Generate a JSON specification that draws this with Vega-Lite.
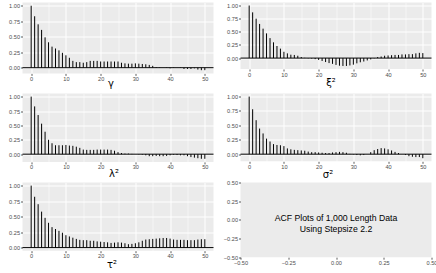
{
  "$schema": "https://vega.github.io/schema/vega-lite/v6.json",
  "background": "white",
  "padding": {"left": 8.5, "top": 2.5, "right": 0, "bottom": 0},
  "columns": 2,
  "spacing": {"row": 20, "column": 27},
  "bounds": "flush",
  "concat": [
    {
      "width": 191, "height": 70.9,
      "resolve": {"axis": {"y": "independent"}},
      "layer": [
        {
          "data": {"values": [
            {"lag":0,"acf":1.00},{"lag":1,"acf":0.83},{"lag":2,"acf":0.70},{"lag":3,"acf":0.61},{"lag":4,"acf":0.49},{"lag":5,"acf":0.41},{"lag":6,"acf":0.34},{"lag":7,"acf":0.31},{"lag":8,"acf":0.28},{"lag":9,"acf":0.24},{"lag":10,"acf":0.20},
            {"lag":11,"acf":0.16},{"lag":12,"acf":0.11},{"lag":13,"acf":0.09},{"lag":14,"acf":0.09},{"lag":15,"acf":0.08},{"lag":16,"acf":0.09},{"lag":17,"acf":0.11},{"lag":18,"acf":0.11},{"lag":19,"acf":0.11},{"lag":20,"acf":0.10},
            {"lag":21,"acf":0.10},{"lag":22,"acf":0.10},{"lag":23,"acf":0.10},{"lag":24,"acf":0.10},{"lag":25,"acf":0.10},{"lag":26,"acf":0.08},{"lag":27,"acf":0.07},{"lag":28,"acf":0.065},{"lag":29,"acf":0.065},{"lag":30,"acf":0.07},
            {"lag":31,"acf":0.065},{"lag":32,"acf":0.06},{"lag":33,"acf":0.055},{"lag":34,"acf":0.045},{"lag":35,"acf":0.03},{"lag":36,"acf":0.01},{"lag":37,"acf":0.005},{"lag":38,"acf":0.0},{"lag":39,"acf":-0.005},{"lag":40,"acf":-0.01},
            {"lag":41,"acf":-0.005},{"lag":42,"acf":0.0},{"lag":43,"acf":-0.005},{"lag":44,"acf":-0.02},{"lag":45,"acf":-0.02},{"lag":46,"acf":-0.02},{"lag":47,"acf":-0.01},{"lag":48,"acf":-0.03},{"lag":49,"acf":-0.04},{"lag":50,"acf":-0.04}
          ]},
          "mark": {"type": "rule", "color": "#000000", "strokeWidth": 1},
          "encoding": {
            "x": {"field": "lag", "type": "quantitative",
              "scale": {"domain": [-2.5, 52.5], "nice": false, "zero": false},
              "axis": {"title": "γ", "titleX": 88, "titleY": 13, "labelOverlap": false,
                "values": [0,5,10,15,20,25,30,35,40,45,50],
                "labelExpr": "datum.value % 10 === 0 ? datum.label : ''",
                "tickOpacity": {"condition": {"test": "datum.value % 10 !== 0", "value": 0}, "value": 1},
                "gridWidth": {"condition": {"test": "datum.value % 10 !== 0", "value": 0.5}, "value": 1}}},
            "y": {"field": "acf", "type": "quantitative",
              "scale": {"domain": [-0.092, 1.052], "nice": false, "zero": false},
              "axis": {"title": null, "format": ".2f", "labelOverlap": false, "orient": "left",
                "values": [0,0.25,0.5,0.75,1], "gridWidth": 1}},
            "y2": {"datum": 0}
          }
        },
        {
          "data": {"values": [{"acf": 0}]},
          "mark": {"type": "rule", "color": "#000000", "strokeWidth": 1},
          "encoding": {"y": {"field": "acf", "type": "quantitative",
            "axis": {"orient": "right", "title": null, "labels": false, "ticks": false, "domain": false,
              "values": [0.125,0.375,0.625,0.875], "gridWidth": 0.5}}}
        }
      ]
    },
    {
      "width": 191, "height": 66.5,
      "resolve": {"axis": {"y": "independent"}},
      "layer": [
        {
          "data": {"values": [
            {"lag":0,"acf":1.00},{"lag":1,"acf":0.87},{"lag":2,"acf":0.75},{"lag":3,"acf":0.65},{"lag":4,"acf":0.56},{"lag":5,"acf":0.47},{"lag":6,"acf":0.38},{"lag":7,"acf":0.30},{"lag":8,"acf":0.23},{"lag":9,"acf":0.18},{"lag":10,"acf":0.12},
            {"lag":11,"acf":0.09},{"lag":12,"acf":0.065},{"lag":13,"acf":0.06},{"lag":14,"acf":0.045},{"lag":15,"acf":0.02},{"lag":16,"acf":0.005},{"lag":17,"acf":-0.005},{"lag":18,"acf":-0.01},{"lag":19,"acf":-0.02},{"lag":20,"acf":-0.035},
            {"lag":21,"acf":-0.055},{"lag":22,"acf":-0.075},{"lag":23,"acf":-0.095},{"lag":24,"acf":-0.11},{"lag":25,"acf":-0.13},{"lag":26,"acf":-0.145},{"lag":27,"acf":-0.15},{"lag":28,"acf":-0.15},{"lag":29,"acf":-0.14},{"lag":30,"acf":-0.125},
            {"lag":31,"acf":-0.10},{"lag":32,"acf":-0.08},{"lag":33,"acf":-0.065},{"lag":34,"acf":-0.045},{"lag":35,"acf":-0.025},{"lag":36,"acf":-0.005},{"lag":37,"acf":0.02},{"lag":38,"acf":0.03},{"lag":39,"acf":0.045},{"lag":40,"acf":0.05},
            {"lag":41,"acf":0.055},{"lag":42,"acf":0.06},{"lag":43,"acf":0.06},{"lag":44,"acf":0.07},{"lag":45,"acf":0.07},{"lag":46,"acf":0.075},{"lag":47,"acf":0.075},{"lag":48,"acf":0.09},{"lag":49,"acf":0.10},{"lag":50,"acf":0.095}
          ]},
          "mark": {"type": "rule", "color": "#000000", "strokeWidth": 1},
          "encoding": {
            "x": {"field": "lag", "type": "quantitative",
              "scale": {"domain": [-2.5, 52.5], "nice": false, "zero": false},
              "axis": {"title": "ξ²", "titleX": 90, "titleY": 16, "labelOverlap": false,
                "values": [0,5,10,15,20,25,30,35,40,45,50],
                "labelExpr": "datum.value % 10 === 0 ? datum.label : ''",
                "tickOpacity": {"condition": {"test": "datum.value % 10 !== 0", "value": 0}, "value": 1},
                "gridWidth": {"condition": {"test": "datum.value % 10 !== 0", "value": 0.5}, "value": 1}}},
            "y": {"field": "acf", "type": "quantitative",
              "scale": {"domain": [-0.2075, 1.0575], "nice": false, "zero": false},
              "axis": {"title": null, "format": ".2f", "labelOverlap": false, "orient": "left",
                "values": [0,0.25,0.5,0.75,1], "gridWidth": 1}},
            "y2": {"datum": 0}
          }
        },
        {
          "data": {"values": [{"acf": 0}]},
          "mark": {"type": "rule", "color": "#000000", "strokeWidth": 1},
          "encoding": {"y": {"field": "acf", "type": "quantitative",
            "axis": {"orient": "right", "title": null, "labels": false, "ticks": false, "domain": false,
              "values": [-0.125,0.125,0.375,0.625,0.875], "gridWidth": 0.5}}}
        }
      ]
    },
    {
      "width": 191, "height": 68.4,
      "resolve": {"axis": {"y": "independent"}},
      "layer": [
        {
          "data": {"values": [
            {"lag":0,"acf":1.00},{"lag":1,"acf":0.83},{"lag":2,"acf":0.68},{"lag":3,"acf":0.53},{"lag":4,"acf":0.39},{"lag":5,"acf":0.25},{"lag":6,"acf":0.19},{"lag":7,"acf":0.155},{"lag":8,"acf":0.155},{"lag":9,"acf":0.155},{"lag":10,"acf":0.16},
            {"lag":11,"acf":0.15},{"lag":12,"acf":0.145},{"lag":13,"acf":0.13},{"lag":14,"acf":0.11},{"lag":15,"acf":0.08},{"lag":16,"acf":0.075},{"lag":17,"acf":0.075},{"lag":18,"acf":0.075},{"lag":19,"acf":0.08},{"lag":20,"acf":0.08},
            {"lag":21,"acf":0.08},{"lag":22,"acf":0.08},{"lag":23,"acf":0.075},{"lag":24,"acf":0.06},{"lag":25,"acf":0.035},{"lag":26,"acf":0.02},{"lag":27,"acf":0.01},{"lag":28,"acf":0.01},{"lag":29,"acf":0.005},{"lag":30,"acf":0.0},
            {"lag":31,"acf":-0.005},{"lag":32,"acf":-0.01},{"lag":33,"acf":-0.02},{"lag":34,"acf":-0.035},{"lag":35,"acf":-0.035},{"lag":36,"acf":-0.03},{"lag":37,"acf":-0.035},{"lag":38,"acf":-0.035},{"lag":39,"acf":-0.03},{"lag":40,"acf":-0.02},
            {"lag":41,"acf":-0.01},{"lag":42,"acf":-0.015},{"lag":43,"acf":-0.02},{"lag":44,"acf":-0.02},{"lag":45,"acf":-0.035},{"lag":46,"acf":-0.05},{"lag":47,"acf":-0.06},{"lag":48,"acf":-0.07},{"lag":49,"acf":-0.08},{"lag":50,"acf":-0.08}
          ]},
          "mark": {"type": "rule", "color": "#000000", "strokeWidth": 1},
          "encoding": {
            "x": {"field": "lag", "type": "quantitative",
              "scale": {"domain": [-2.5, 52.5], "nice": false, "zero": false},
              "axis": {"title": "λ²", "titleX": 91, "titleY": 15, "labelOverlap": false,
                "values": [0,5,10,15,20,25,30,35,40,45,50],
                "labelExpr": "datum.value % 10 === 0 ? datum.label : ''",
                "tickOpacity": {"condition": {"test": "datum.value % 10 !== 0", "value": 0}, "value": 1},
                "gridWidth": {"condition": {"test": "datum.value % 10 !== 0", "value": 0.5}, "value": 1}}},
            "y": {"field": "acf", "type": "quantitative",
              "scale": {"domain": [-0.134, 1.054], "nice": false, "zero": false},
              "axis": {"title": null, "format": ".2f", "labelOverlap": false, "orient": "left",
                "values": [0,0.25,0.5,0.75,1], "gridWidth": 1}},
            "y2": {"datum": 0}
          }
        },
        {
          "data": {"values": [{"acf": 0}]},
          "mark": {"type": "rule", "color": "#000000", "strokeWidth": 1},
          "encoding": {"y": {"field": "acf", "type": "quantitative",
            "axis": {"orient": "right", "title": null, "labels": false, "ticks": false, "domain": false,
              "values": [-0.125,0.125,0.375,0.625,0.875], "gridWidth": 0.5}}}
        }
      ]
    },
    {
      "width": 191, "height": 67.8,
      "resolve": {"axis": {"y": "independent"}},
      "layer": [
        {
          "data": {"values": [
            {"lag":0,"acf":1.00},{"lag":1,"acf":0.78},{"lag":2,"acf":0.59},{"lag":3,"acf":0.445},{"lag":4,"acf":0.36},{"lag":5,"acf":0.27},{"lag":6,"acf":0.22},{"lag":7,"acf":0.175},{"lag":8,"acf":0.16},{"lag":9,"acf":0.155},{"lag":10,"acf":0.14},
            {"lag":11,"acf":0.10},{"lag":12,"acf":0.085},{"lag":13,"acf":0.075},{"lag":14,"acf":0.07},{"lag":15,"acf":0.065},{"lag":16,"acf":0.06},{"lag":17,"acf":0.045},{"lag":18,"acf":0.035},{"lag":19,"acf":0.035},{"lag":20,"acf":0.03},
            {"lag":21,"acf":0.025},{"lag":22,"acf":0.02},{"lag":23,"acf":0.02},{"lag":24,"acf":0.03},{"lag":25,"acf":0.035},{"lag":26,"acf":0.04},{"lag":27,"acf":0.035},{"lag":28,"acf":0.025},{"lag":29,"acf":0.005},{"lag":30,"acf":-0.005},
            {"lag":31,"acf":-0.015},{"lag":32,"acf":-0.02},{"lag":33,"acf":-0.015},{"lag":34,"acf":0.0},{"lag":35,"acf":0.035},{"lag":36,"acf":0.07},{"lag":37,"acf":0.09},{"lag":38,"acf":0.105},{"lag":39,"acf":0.10},{"lag":40,"acf":0.085},
            {"lag":41,"acf":0.065},{"lag":42,"acf":0.04},{"lag":43,"acf":0.02},{"lag":44,"acf":0.0},{"lag":45,"acf":-0.015},{"lag":46,"acf":-0.035},{"lag":47,"acf":-0.045},{"lag":48,"acf":-0.05},{"lag":49,"acf":-0.05},{"lag":50,"acf":-0.07}
          ]},
          "mark": {"type": "rule", "color": "#000000", "strokeWidth": 1},
          "encoding": {
            "x": {"field": "lag", "type": "quantitative",
              "scale": {"domain": [-2.5, 52.5], "nice": false, "zero": false},
              "axis": {"title": "σ²", "titleX": 87, "titleY": 16, "labelOverlap": false,
                "values": [0,5,10,15,20,25,30,35,40,45,50],
                "labelExpr": "datum.value % 10 === 0 ? datum.label : ''",
                "tickOpacity": {"condition": {"test": "datum.value % 10 !== 0", "value": 0}, "value": 1},
                "gridWidth": {"condition": {"test": "datum.value % 10 !== 0", "value": 0.5}, "value": 1}}},
            "y": {"field": "acf", "type": "quantitative",
              "scale": {"domain": [-0.1235, 1.0535], "nice": false, "zero": false},
              "axis": {"title": null, "format": ".2f", "labelOverlap": false, "orient": "left",
                "values": [0,0.25,0.5,0.75,1], "gridWidth": 1}},
            "y2": {"datum": 0}
          }
        },
        {
          "data": {"values": [{"acf": 0}]},
          "mark": {"type": "rule", "color": "#000000", "strokeWidth": 1},
          "encoding": {"y": {"field": "acf", "type": "quantitative",
            "axis": {"orient": "right", "title": null, "labels": false, "ticks": false, "domain": false,
              "values": [0.125,0.375,0.625,0.875], "gridWidth": 0.5}}}
        }
      ]
    },
    {
      "width": 191, "height": 68.2,
      "resolve": {"axis": {"y": "independent"}},
      "layer": [
        {
          "data": {"values": [
            {"lag":0,"acf":1.00},{"lag":1,"acf":0.82},{"lag":2,"acf":0.70},{"lag":3,"acf":0.58},{"lag":4,"acf":0.48},{"lag":5,"acf":0.40},{"lag":6,"acf":0.33},{"lag":7,"acf":0.30},{"lag":8,"acf":0.27},{"lag":9,"acf":0.24},{"lag":10,"acf":0.20},
            {"lag":11,"acf":0.18},{"lag":12,"acf":0.16},{"lag":13,"acf":0.14},{"lag":14,"acf":0.125},{"lag":15,"acf":0.12},{"lag":16,"acf":0.12},{"lag":17,"acf":0.11},{"lag":18,"acf":0.11},{"lag":19,"acf":0.10},{"lag":20,"acf":0.095},
            {"lag":21,"acf":0.09},{"lag":22,"acf":0.085},{"lag":23,"acf":0.075},{"lag":24,"acf":0.08},{"lag":25,"acf":0.085},{"lag":26,"acf":0.08},{"lag":27,"acf":0.07},{"lag":28,"acf":0.055},{"lag":29,"acf":0.06},{"lag":30,"acf":0.07},
            {"lag":31,"acf":0.085},{"lag":32,"acf":0.11},{"lag":33,"acf":0.13},{"lag":34,"acf":0.135},{"lag":35,"acf":0.14},{"lag":36,"acf":0.145},{"lag":37,"acf":0.15},{"lag":38,"acf":0.155},{"lag":39,"acf":0.155},{"lag":40,"acf":0.145},
            {"lag":41,"acf":0.13},{"lag":42,"acf":0.125},{"lag":43,"acf":0.125},{"lag":44,"acf":0.125},{"lag":45,"acf":0.12},{"lag":46,"acf":0.12},{"lag":47,"acf":0.12},{"lag":48,"acf":0.13},{"lag":49,"acf":0.135},{"lag":50,"acf":0.135}
          ]},
          "mark": {"type": "rule", "color": "#000000", "strokeWidth": 1},
          "encoding": {
            "x": {"field": "lag", "type": "quantitative",
              "scale": {"domain": [-2.5, 52.5], "nice": false, "zero": false},
              "axis": {"title": "τ²", "titleX": 89, "titleY": 17, "labelOverlap": false,
                "values": [0,5,10,15,20,25,30,35,40,45,50],
                "labelExpr": "datum.value % 10 === 0 ? datum.label : ''",
                "tickOpacity": {"condition": {"test": "datum.value % 10 !== 0", "value": 0}, "value": 1},
                "gridWidth": {"condition": {"test": "datum.value % 10 !== 0", "value": 0.5}, "value": 1}}},
            "y": {"field": "acf", "type": "quantitative",
              "scale": {"domain": [-0.05, 1.05], "nice": false, "zero": false},
              "axis": {"title": null, "format": ".2f", "labelOverlap": false, "orient": "left",
                "values": [0,0.25,0.5,0.75,1], "gridWidth": 1}},
            "y2": {"datum": 0}
          }
        },
        {
          "data": {"values": [{"acf": 0}]},
          "mark": {"type": "rule", "color": "#000000", "strokeWidth": 1},
          "encoding": {"y": {"field": "acf", "type": "quantitative",
            "axis": {"orient": "right", "title": null, "labels": false, "ticks": false, "domain": false,
              "values": [0.125,0.375,0.625,0.875], "gridWidth": 0.5}}}
        }
      ]
    },
    {
      "width": 191, "height": 74.7,
      "data": {"values": [{"x": 0, "y": 0, "label": "ACF Plots of 1,000 Length Data\nUsing Stepsize 2.2"}]},
      "mark": {"type": "text", "font": "Liberation Sans", "fontSize": 8.7, "lineBreak": "\n", "lineHeight": 11.5, "dy": -2, "color": "#000000", "align": "center", "baseline": "middle"},
      "encoding": {
        "x": {"field": "x", "type": "quantitative",
          "scale": {"domain": [-0.5, 0.5], "nice": false, "zero": false},
          "axis": {"title": null, "grid": false, "format": ".2f", "labelOverlap": false, "values": [-0.5,-0.25,0,0.25,0.5]}},
        "y": {"field": "y", "type": "quantitative",
          "scale": {"domain": [-0.5, 0.5], "nice": false, "zero": false},
          "axis": {"title": null, "grid": false, "format": ".2f", "labelOverlap": false, "values": [-0.5,-0.25,0,0.25,0.5]}},
        "text": {"field": "label", "type": "nominal"}
      }
    }
  ],
  "config": {
    "view": {"fill": "#EBEBEB", "stroke": null},
    "axis": {
      "domain": false,
      "gridColor": "#FFFFFF",
      "tickColor": "#333333",
      "tickSize": 2,
      "tickWidth": 0.8,
      "labelFont": "Liberation Sans",
      "labelFontSize": 5.6,
      "labelColor": "#4D4D4D",
      "labelPadding": 1,
      "labelFlush": false,
      "labelOverlap": false,
      "titleFont": "DejaVu Sans",
      "titleFontSize": 10,
      "titleFontWeight": "normal",
      "titleColor": "#000000",
      "titleBaseline": "alphabetic"
    }
  }
}
